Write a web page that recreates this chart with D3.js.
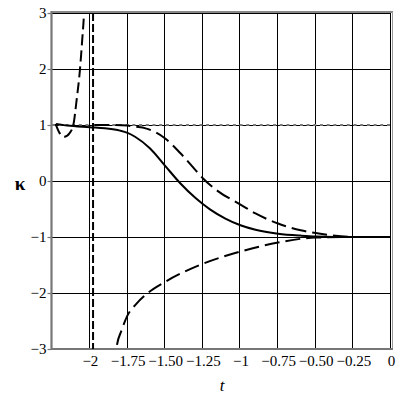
<!DOCTYPE html>
<html><head><meta charset="utf-8">
<script src="https://cdn.jsdelivr.net/npm/d3@7"></script>
<style>body{margin:0;background:#fff}svg{display:block}
svg text{font-family:"Liberation Serif","Times New Roman",serif}</style>
</head><body>
<script>
const xTicks = [-2, -1.75, -1.5, -1.25, -1, -0.75, -0.5, -0.25, 0];
const xTickLabels = ["\u22122","\u22121.75","\u22121.50","\u22121.25","\u22121","\u22120.75","\u22120.50","\u22120.25","0"];
const yTicks = [3, 2, 1, 0, -1, -2, -3];
const yTickLabels = ["3","2","1","0","\u22121","\u22122","\u22123"];

// solid curve
const solidT = [-2.225,-2.15,-2.0,-1.9,-1.8,-1.75,-1.7,-1.6,-1.5,-1.4,-1.3,-1.25,-1.2,-1.1,-1.0,-0.9,-0.75,-0.6,-0.5,-0.25,0];
const solidK = [1.02,0.99,0.96,0.94,0.90,0.86,0.79,0.58,0.27,-0.04,-0.30,-0.41,-0.51,-0.67,-0.79,-0.87,-0.94,-0.975,-0.99,-1.0,-1.0];
// dashed curve near the left edge (blows up)
const dashAT = [-2.228,-2.202,-2.169,-2.136,-2.110,-2.088,-2.066,-2.051,-2.039,-2.03];
const dashAK = [1.02,0.86,0.79,0.85,1.0,1.45,1.99,2.52,3.0,3.6];
// upper dashed curve
const dashBT = [-1.97,-1.85,-1.75,-1.7,-1.63,-1.5,-1.4,-1.3,-1.25,-1.15,-1.0,-0.9,-0.75,-0.6,-0.5,-0.4,-0.25,0];
const dashBK = [1.0,1.0,0.99,0.97,0.94,0.76,0.50,0.20,0.05,-0.18,-0.42,-0.58,-0.76,-0.88,-0.93,-0.97,-1.0,-1.0];
// lower dashed curve
const dashCT = [-1.835,-1.822,-1.79,-1.75,-1.69,-1.62,-1.5,-1.27,-1.0,-0.75,-0.5,-0.25,0];
const dashCK = [-3.3,-2.96,-2.67,-2.40,-2.19,-2.01,-1.80,-1.50,-1.26,-1.10,-1.01,-1.0,-1.0];
// vertical dashed line position and horizontal dotted level
const vLineT = [-1.979];
const hLineK = [1];

const W = 400, H = 400;
const x = d3.scaleLinear().domain([-2.255, 0]).range([51.5, 391]);
const y = d3.scaleLinear().domain([-3, 3]).range([349, 13]);
const px = v => Math.round(v) + 0.5;

const svg = d3.select("body").append("svg").attr("width", W).attr("height", H);

svg.append("defs").append("clipPath").attr("id","clip")
  .append("rect").attr("x", x.range()[0]).attr("y", y.range()[1])
  .attr("width", x.range()[1]-x.range()[0]).attr("height", y.range()[0]-y.range()[1]);

// grid
const g = svg.append("g");
g.selectAll(".gx").data(xTicks).join("line")
  .attr("x1", d=>px(x(d))-1).attr("x2", d=>px(x(d))-1).attr("y1", y(3)).attr("y2", y(-3))
  .attr("stroke","#000").attr("stroke-width",1);
g.selectAll(".gy").data(yTicks).join("line")
  .attr("x1", x.range()[0]).attr("x2", x.range()[1]).attr("y1", d=>px(y(d))).attr("y2", d=>px(y(d)))
  .attr("stroke","#000").attr("stroke-width",1);

// frame
svg.append("line").attr("x1",x.range()[0]).attr("x2",x.range()[1]+2).attr("y1",y(3)-1).attr("y2",y(3)-1)
  .attr("stroke","#888").attr("stroke-width",2);
svg.append("line").attr("x1",392.5).attr("x2",392.5).attr("y1",y(3)-1).attr("y2",y(-3))
  .attr("stroke","#999").attr("stroke-width",1);

// axes
const xAxis = d3.axisBottom(x).tickValues(xTicks).tickFormat((d,i)=>xTickLabels[i]).tickSize(0).tickPadding(6);
const yAxis = d3.axisLeft(y).tickValues(yTicks).tickFormat((d,i)=>yTickLabels[i]).tickSize(4).tickPadding(1);
const gx = svg.append("g").attr("transform",`translate(0,${y(-3)})`).call(xAxis);
const gy = svg.append("g").attr("transform",`translate(${x.range()[0]},0)`).call(yAxis);
[gx,gy].forEach(a=>{
  a.attr("font-family", null);
  a.select(".domain").attr("stroke","#777").attr("stroke-width",2.2);
  a.selectAll(".tick line").attr("stroke","#777").attr("stroke-width",1.2);
  a.selectAll("text").style("font-family","'Liberation Serif','Times New Roman',serif")
    .attr("font-size",15).attr("fill","#000");
});
gx.select(".domain").attr("d", `M${x.range()[0]},0H${x.range()[1]+2}`);
gy.select(".domain").attr("d", `M0,${y(3)-2}V${y(-3)}`);

// axis titles
svg.append("text").attr("x",222).attr("y",391).attr("text-anchor","middle")
  .attr("font-style","italic").attr("font-size",17).text("t");
svg.append("text").attr("x",20).attr("y",190).attr("text-anchor","middle")
  .attr("font-size",19).attr("font-weight","bold").text("\u03ba");

// curves
const plot = svg.append("g").attr("clip-path","url(#clip)");
const line = d3.line().x(d=>x(d[0])).y(d=>y(d[1])).curve(d3.curveMonotoneX);

plot.selectAll(".hl").data(hLineK).join("line")
  .attr("x1",52).attr("x2",x.range()[1]).attr("y1",d=>Math.round(y(d))).attr("y2",d=>Math.round(y(d)))
  .attr("stroke","#7a7a7a").attr("stroke-width",2).attr("stroke-dasharray","3,3.7");

plot.selectAll(".vl").data(vLineT).join("line")
  .attr("x1",d=>x(d)).attr("x2",d=>x(d)).attr("y1",y(3)).attr("y2",y(-3))
  .attr("stroke","#000").attr("stroke-width",2).attr("stroke-dasharray","8,3");

const zip = (a,b)=>a.map((t,i)=>[t,b[i]]);
plot.append("path").attr("d", line(zip(solidT,solidK))).attr("fill","none")
  .attr("stroke","#000").attr("stroke-width",2);
plot.append("path").attr("d", line(zip(dashAT,dashAK))).attr("fill","none")
  .attr("stroke","#000").attr("stroke-width",2).attr("stroke-dasharray","11,5");
plot.append("path").attr("d", line(zip(dashBT,dashBK))).attr("fill","none")
  .attr("stroke","#000").attr("stroke-width",2).attr("stroke-dasharray","15,6");
plot.append("path").attr("d", line(zip(dashCT,dashCK))).attr("fill","none")
  .attr("stroke","#000").attr("stroke-width",2).attr("stroke-dasharray","15,6");
</script>
</body></html>
